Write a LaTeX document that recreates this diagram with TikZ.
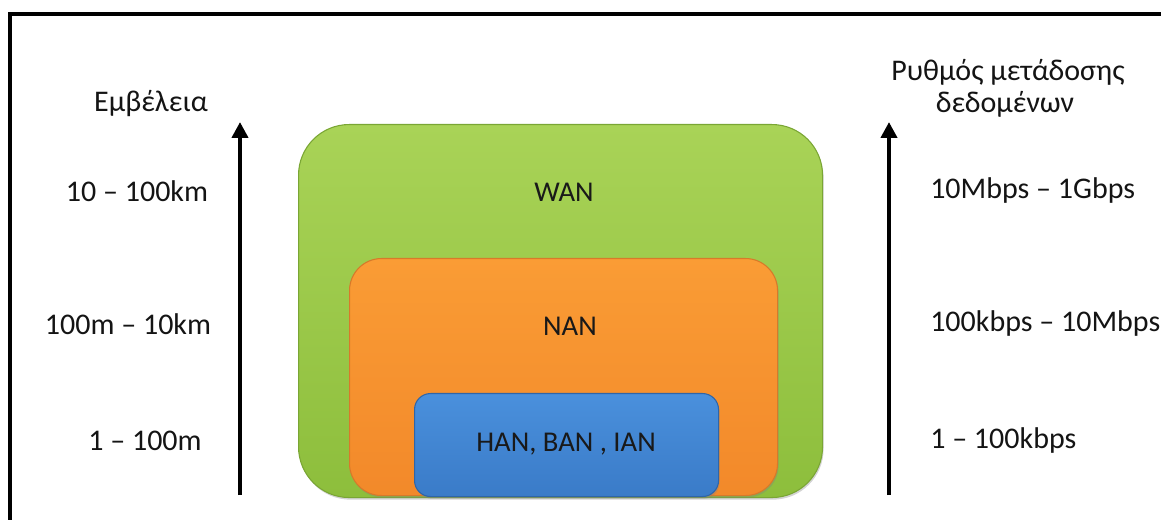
\documentclass[tikz,border=0pt]{standalone}
\usepackage{fontspec}
\setmainfont{Carlito}
\usetikzlibrary{arrows.meta,shadows}
\definecolor{wanTop}{HTML}{A9D357}
\definecolor{wanBot}{HTML}{8DBE3C}
\definecolor{wanEdge}{HTML}{7AA634}
\definecolor{nanTop}{HTML}{FA9C35}
\definecolor{nanBot}{HTML}{F2892A}
\definecolor{nanEdge}{HTML}{D7792A}
\definecolor{hanTop}{HTML}{4A90DC}
\definecolor{hanBot}{HTML}{3A7BC8}
\definecolor{hanEdge}{HTML}{2F65A8}
\definecolor{txt}{HTML}{141414}
\tikzset{
  net/.style={draw, line width=0.8pt, inner sep=0pt, anchor=north west,
    drop shadow={shadow xshift=0.8pt, shadow yshift=-1.6pt, opacity=0.35}},
  lbl/.style={font=\fontsize{22.5}{26}\selectfont, text=txt, inner sep=0pt},
  boxlbl/.style={font=\fontsize{21.5}{25}\selectfont, text=black!90, inner sep=0pt},
  axis/.style={line width=3pt, -{Triangle[width=12pt,length=12pt]}},
}
\begin{document}
\begin{tikzpicture}[x=0.75pt,y=-0.75pt]
\useasboundingbox (0,0) rectangle (1161,520);
% frame
\draw[line width=3pt] (10,540) -- (10,14) -- (1180,14);
% boxes
\node[net, draw=wanEdge, top color=wanTop, bottom color=wanBot, rounded corners=38pt,
      minimum width=524*0.75pt, minimum height=373*0.75pt] (wan) at (298,124) {};
\node[net, draw=nanEdge, top color=nanTop, bottom color=nanBot, rounded corners=24pt,
      minimum width=428*0.75pt, minimum height=237*0.75pt] (nan) at (349,258) {};
\node[net, draw=hanEdge, top color=hanTop, bottom color=hanBot, rounded corners=12pt,
      minimum width=304*0.75pt, minimum height=103*0.75pt] (han) at (414,393) {};
\node[boxlbl] (want) at (564,192) {WAN};
\node[boxlbl] (nant) at (570,326) {NAN};
\node[boxlbl] (hant) at (566,444) {HAN, BAN , IAN};
% axes
\coordinate (la0) at (240,495);
\coordinate (la1) at (240,122);
\coordinate (ra0) at (889,495);
\coordinate (ra1) at (889,122);
\draw[axis] (la0) -- (la1);
\draw[axis] (ra0) -- (ra1);
% left labels
\node[lbl] (rng) at (151,104) {Εμβέλεια};
\node[lbl] (r1) at (137,191) {10 – 100km};
\node[lbl] (r2) at (128,324) {100m – 10km};
\node[lbl] (r3) at (145,441) {1 – 100m};
% right labels
\node[lbl] (rate1) at (1008,72) {Ρυθμός μετάδοσης};
\node[lbl] (rate2) at (1005,104) {δεδομένων};
\node[lbl, anchor=west] (d1) at (930,191) {10Mbps – 1Gbps};
\node[lbl, anchor=west] (d2) at (930,324) {100kbps – 10Mbps};
\node[lbl, anchor=west] (d3) at (930,441) {1 – 100kbps};
\end{tikzpicture}
\end{document}
